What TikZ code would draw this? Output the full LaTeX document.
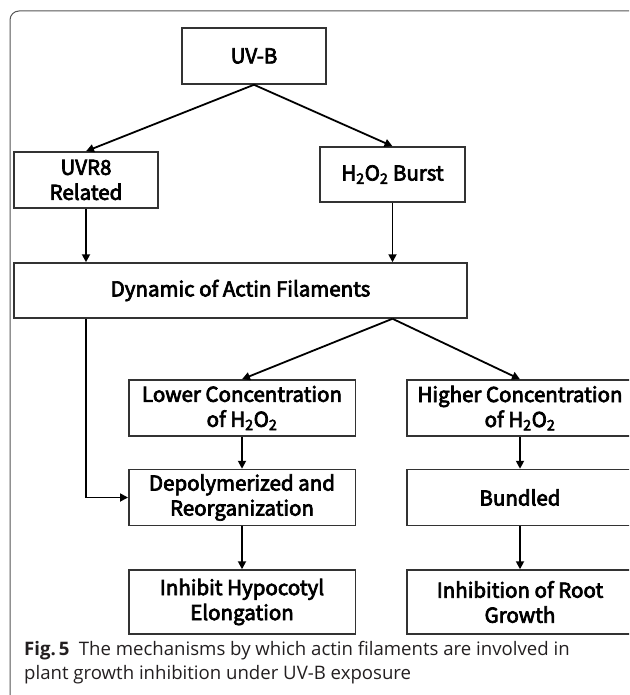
\documentclass[tikz,border=0pt]{standalone}
\usepackage{fontspec}
\setmainfont{Open Sans}
\newfontfamily\boxfont{Noto Sans CJK SC}[FakeBold=3.5]
\usetikzlibrary{positioning,arrows.meta,calc}
\definecolor{ink}{HTML}{231F20}
\definecolor{edge}{HTML}{333333}
\definecolor{framec}{HTML}{555555}
\tikzset{
  box/.style={draw=edge, line width=1.5pt, align=center, inner sep=0pt, minimum width=144pt, minimum height=56pt,
    font=\boxfont\fontsize{20.5}{25}\selectfont},
  wbox/.style={box, minimum width=226.5pt},
  captext/.style={font=\fontsize{18.6}{24}\selectfont, text=ink, align=left, inner sep=0pt},
  flow/.style={-{Triangle[length=8pt,width=8pt]}, draw=black, line width=1.8pt},
}

\begin{document}
\begin{tikzpicture}[x=1pt,y=-1pt]
    \useasboundingbox (0,0) rectangle (629,695);
    \clip (0,0) rectangle (629,695);
    \draw[framec, line width=1pt, rounded corners=9pt] (10,11) rectangle (660,730);
    % top of the tree
    \node[box] (uvb) at (254,56) {UV-B};
    \node[box] (uvr) at (86,180) {UVR8\\Related};
    \node[box, minimum width=145pt, minimum height=55pt] (burst) at (392.5,174.5) {H\textsubscript{2}O\textsubscript{2} Burst};
    \node[box, minimum width=453pt, minimum height=55pt] (dyn) at (240.5,290.5) {Dynamic of Actin Filaments};
    % two branches
    \node[wbox] (low) at (242,408) {Lower Concentration\\of H\textsubscript{2}O\textsubscript{2}};
    \node[wbox, right=50pt of low] (high) {Higher Concentration\\of H\textsubscript{2}O\textsubscript{2}};
    \node[wbox, below=32pt of low] (dep) {Depolymerized and\\Reorganization};
    \node[wbox, below=32pt of high] (bund) {Bundled};
    \node[wbox, minimum height=64pt, below=43pt of dep] (inh) {Inhibit Hypocotyl\\Elongation};
    \node[wbox, minimum height=64pt, below=43pt of bund] (root) {Inhibition of Root\\Growth};
    \node[captext, anchor=north west] (caption) at (24,641) {\textbf{Fig.\,5}\enspace The mechanisms by which actin filaments are involved in\\plant growth inhibition under UV-B exposure};
    \draw[flow] (uvb.south) -- (uvr.north);
    \draw[flow] (uvb.south) -- (burst.north);
    \draw[flow] (uvr.south) -- (uvr.south |- dyn.north);
    \draw[flow] (burst.south) -- (burst.south |- dyn.north);
    \coordinate (split) at (burst.south |- dyn.south);
    \draw[flow] (split) -- (low.north);
    \draw[flow] (split) -- (high.north);
    \draw[flow] (uvr.south |- dyn.south) |- (dep.west);
    \draw[flow] (low) -- (dep); \draw[flow] (dep) -- (inh);
    \draw[flow] (high) -- (bund); \draw[flow] (bund) -- (root);
\end{tikzpicture}
\end{document}
